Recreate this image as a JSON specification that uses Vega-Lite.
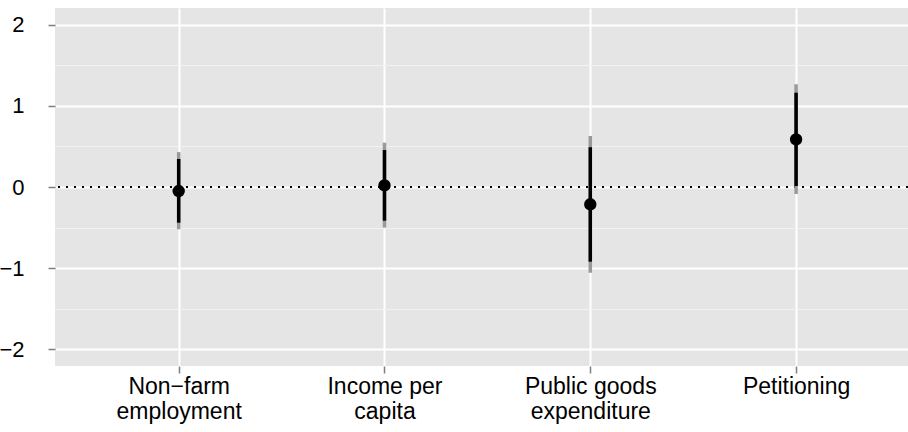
{
  "$schema": "https://vega.github.io/schema/vega-lite/v6.json",
  "autosize": {"type": "none"},
  "padding": {"left": 55, "top": 8, "right": 0, "bottom": 66},
  "width": 853,
  "height": 358,
  "background": "white",
  "config": {
    "view": {"fill": "#e5e5e5", "stroke": null},
    "font": "Liberation Sans"
  },
  "data": {
    "values": [
      {"term": "Non−farm\nemployment", "estimate": -0.05, "lo90": -0.44, "hi90": 0.345, "lo95": -0.52, "hi95": 0.43},
      {"term": "Income per\ncapita", "estimate": 0.02, "lo90": -0.415, "hi90": 0.456, "lo95": -0.50, "hi95": 0.546},
      {"term": "Public goods\nexpenditure", "estimate": -0.213, "lo90": -0.92, "hi90": 0.49, "lo95": -1.056, "hi95": 0.63},
      {"term": "Petitioning", "estimate": 0.587, "lo90": 0.012, "hi90": 1.162, "lo95": -0.086, "hi95": 1.266}
    ]
  },
  "encoding": {
    "x": {
      "field": "term",
      "type": "nominal",
      "sort": null,
      "scale": {"type": "point", "padding": 0.5724, "align": 0.525},
      "axis": {
        "title": null,
        "domain": false,
        "labelAngle": 0,
        "labelExpr": "split(datum.value, '\\n')",
        "labelFontSize": 23,
        "labelColor": "#000000",
        "labelLineHeight": 25,
        "labelPadding": 2,
        "labelBaseline": "top",
        "tickColor": "#7f7f7f",
        "tickSize": 7,
        "tickWidth": 1.5,
        "grid": true,
        "gridColor": "#ffffff",
        "gridWidth": 2
      }
    }
  },
  "layer": [
    {
      "mark": {"type": "rule", "color": "#000000", "strokeWidth": 1.5, "strokeDash": [2, 6]},
      "encoding": {
        "x": null,
        "y": {
          "datum": 0,
          "type": "quantitative",
          "scale": {"domain": [-2.206, 2.206], "nice": false, "zero": false},
          "axis": {
            "orient": "left",
            "title": null,
            "values": [-1.5, -0.5, 0.5, 1.5],
            "grid": true,
            "gridColor": "#f2f2f2",
            "gridWidth": 1,
            "labels": false,
            "ticks": false,
            "domain": false
          }
        }
      }
    },
    {
      "mark": {"type": "rule", "color": "#999999", "strokeWidth": 3.5},
      "encoding": {
        "y": {
          "field": "lo95",
          "type": "quantitative",
          "axis": {
            "orient": "left",
            "title": null,
            "values": [-2, -1, 0, 1, 2],
            "format": "d",
            "grid": true,
            "gridColor": "#ffffff",
            "gridWidth": 2,
            "domain": false,
            "labelFontSize": 22,
            "labelColor": "#000000",
            "labelPadding": 24,
            "tickColor": "#7f7f7f",
            "tickSize": 7,
            "tickWidth": 1.5
          }
        },
        "y2": {"field": "hi95"}
      }
    },
    {
      "mark": {"type": "rule", "color": "#000000", "strokeWidth": 3.5},
      "encoding": {
        "y": {"field": "lo90", "type": "quantitative"},
        "y2": {"field": "hi90"}
      }
    },
    {
      "mark": {"type": "circle", "color": "#000000", "opacity": 1, "size": 154},
      "encoding": {
        "y": {"field": "estimate", "type": "quantitative"}
      }
    }
  ],
  "resolve": {"axis": {"y": "independent"}}
}
